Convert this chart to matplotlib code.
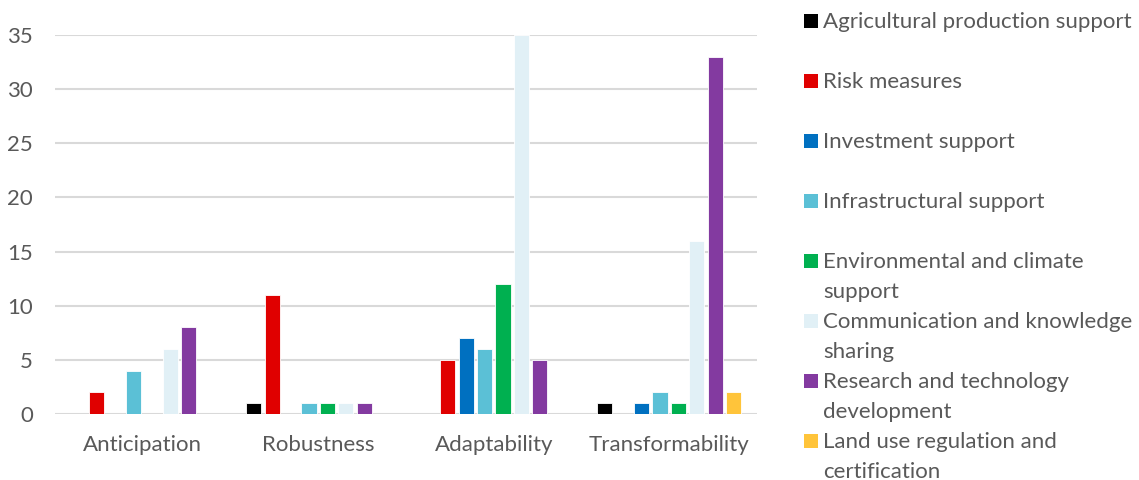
import matplotlib
matplotlib.use("Agg")
import matplotlib.pyplot as plt
from matplotlib.patches import Rectangle
import numpy as np

categories = ["Anticipation", "Robustness", "Adaptability", "Transformability"]
series_names = [
    "Agricultural production support",
    "Risk measures",
    "Investment support",
    "Infrastructural support",
    "Environmental and climate\nsupport",
    "Communication and knowledge\nsharing",
    "Research and technology\ndevelopment",
    "Land use regulation and\ncertification",
]
agricultural = [0, 1, 0, 1]
risk = [2, 11, 5, 0]
investment = [0, 0, 7, 1]
infrastructural = [4, 1, 6, 2]
environmental = [0, 1, 12, 1]
communication = [6, 1, 35, 16]
research = [8, 1, 5, 33]
land_use = [0, 0, 0, 2]
series_values = [agricultural, risk, investment, infrastructural,
                 environmental, communication, research, land_use]
colors = ["#000000", "#E00000", "#0070C0", "#5BC0D6",
          "#00B050", "#E1F0F6", "#833AA0", "#FFC43A"]
yticks = [0, 5, 10, 15, 20, 25, 30, 35]

plt.rcParams['font.family'] = ['Lato', 'DejaVu Sans']
text_color = "#595959"

W, H = 1139, 480
fig = plt.figure(figsize=(W / 100, H / 100), dpi=100)
ax = fig.add_axes([55 / W, 1 - 414 / H, 702 / W, 379 / H])

x = np.arange(len(categories))
slot = 0.1054
width = 0.0855
n = len(series_values)
for i, (vals, col) in enumerate(zip(series_values, colors)):
    ax.bar(x + (i - (n - 1) / 2) * slot, vals, width=width, color=col,
           edgecolor="white", linewidth=0.6, zorder=3)

ax.set_xlim(-0.5, len(categories) - 0.5)
ax.set_ylim(0, 35)
ax.set_yticks(yticks)
ax.set_xticks(x)
ax.set_xticklabels(categories)
ax.yaxis.grid(True, color="#D9D9D9", linewidth=1.5, zorder=0)
ax.set_axisbelow(True)
for s in ax.spines.values():
    s.set_visible(False)
ax.tick_params(axis="both", length=0, labelsize=16, labelcolor=text_color)
ax.tick_params(axis="x", pad=15)
ax.tick_params(axis="y", pad=16)

# legend (manual, Excel-style: marker aligned with first line)
for i, (name, col) in enumerate(zip(series_names, colors)):
    yc = 21 + 60 * i
    fig.patches.append(Rectangle((804 / W, 1 - (yc + 7) / H), 14 / W, 14 / H,
                                 transform=fig.transFigure, facecolor=col,
                                 edgecolor="none"))
    fig.text(823 / W, 1 - (yc - 9) / H, name, fontsize=16, color=text_color,
             va="top", ha="left", linespacing=1.63)

fig.savefig("out.png", dpi=100)
